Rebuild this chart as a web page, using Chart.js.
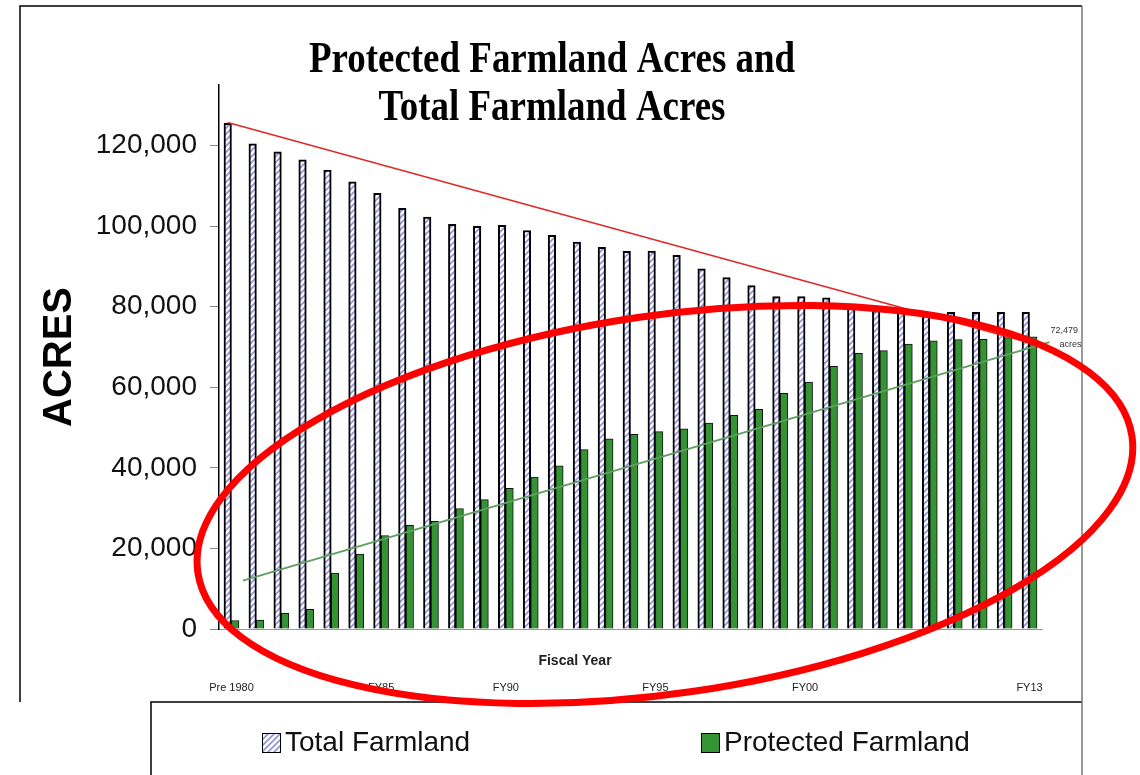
<!DOCTYPE html>
<html>
<head>
<meta charset="utf-8">
<script src="https://cdn.jsdelivr.net/npm/chart.js@4.4.1/dist/chart.umd.min.js"></script>
<style>
  html, body { margin: 0; padding: 0; background: #fff; }
  #wrap { width: 1140px; height: 775px; }
</style>
</head>
<body>
<div id="wrap"><canvas id="farmland" width="1140" height="775"></canvas></div>
<script>
// one entry per fiscal year bar pair, only some are labelled on the chart
const fiscalYears = [
    'Pre 1980', '', '', '', '', '', 'FY85', '', '', '', '', 'FY90', '', '', '', '', '',
    'FY95', '', '', '', '', '', 'FY00', '', '', '', '', '', '', '', '', 'FY13'
]

const totalAcres = [
    125500, 120400, 118400, 116400, 113900, 111000, 108100, 104400, 102200, 100400, 99900,
    100200, 98900, 97700, 96000, 94700, 93700, 93800, 92700, 89400, 87200, 85200,
    82500, 82500, 82200, 80000, 79000, 78800, 78600, 78600, 78600, 78600, 78600
]

const protectedAcres = [
    2100, 2200, 3900, 4900, 13900, 18600, 23200, 25700, 26700, 29900, 32100,
    34900, 37700, 40500, 44500, 47200, 48300, 49000, 49700, 51100, 53000, 54500,
    58500, 61300, 65200, 68400, 69100, 70700, 71500, 71800, 71900, 72300, 72479
]

const acreTicks = [0, 20000, 40000, 60000, 80000, 100000, 120000]

// linear trend lines, x = category index
const totalTrend = [{x: -0.15, y: 125700}, {x: 33.2, y: 69000}]
const protectedTrend = [{x: 0.46, y: 12000}, {x: 32.8, y: 71200}]

const titleLines = ['Protected Farmland Acres and', 'Total Farmland Acres']
const lastValueNote = ['72,479', 'acres']
// hand drawn highlight, centre in data units
const highlight = {x: 17.38, y: 30900}

const canvas = document.getElementById('farmland')
const fmt = v => String(v).replace(/\B(?=(\d{3})+(?!\d))/g, ',')

function hatchPattern() {
    const c = document.createElement('canvas')
    c.width = 6
    c.height = 6
    const g = c.getContext('2d')
    g.fillStyle = '#ffffff'
    g.fillRect(0, 0, 6, 6)
    g.strokeStyle = '#9090dc'
    g.lineWidth = 1.6
    g.beginPath()
    g.moveTo(0, 6); g.lineTo(6, 0)
    g.moveTo(-1, 1); g.lineTo(1, -1)
    g.moveTo(5, 7); g.lineTo(7, 5)
    g.stroke()
    return canvas.getContext('2d').createPattern(c, 'repeat')
}

const hatch = hatchPattern()

const overlay = {
    id: 'overlay',
    afterDraw(chart) {
        const {ctx, scales} = chart
        ctx.save()

        // frame and legend box
        ctx.lineWidth = 1.5
        ctx.strokeStyle = '#000'
        ctx.beginPath()
        ctx.moveTo(20, 702); ctx.lineTo(20, 6); ctx.lineTo(1082, 6)
        ctx.moveTo(151, 775); ctx.lineTo(151, 702); ctx.lineTo(1082, 702)
        ctx.stroke()
        ctx.strokeStyle = '#777'
        ctx.beginPath()
        ctx.moveTo(1082, 6); ctx.lineTo(1082, 775)
        ctx.stroke()

        // title
        ctx.fillStyle = '#000'
        ctx.font = 'bold 44px "Liberation Serif"'
        ctx.textAlign = 'center'
        ctx.textBaseline = 'alphabetic'
        titleLines.forEach((t, i) => {
            ctx.save()
            ctx.translate(552, 72 + i * 48)
            ctx.scale(0.84, 1)
            ctx.fillText(t, 0, 0)
            ctx.restore()
        })

        // axis title under the plot
        ctx.font = 'bold 14px "Liberation Sans"'
        ctx.fillStyle = '#222'
        ctx.textBaseline = 'middle'
        ctx.fillText('Fiscal Year', 575, 661)

        // legend
        ctx.textAlign = 'left'
        ctx.font = '28px "Liberation Sans"'
        const legendX = [262, 701]
        chart.data.datasets.filter(d => d.type !== 'line').forEach((d, i) => {
            ctx.fillStyle = d.backgroundColor
            ctx.fillRect(legendX[i], 733, 18, 19)
            ctx.lineWidth = 1
            ctx.strokeStyle = '#000'
            ctx.strokeRect(legendX[i] + 0.5, 733.5, 18, 19)
            ctx.fillStyle = '#111'
            ctx.fillText(d.label, legendX[i] + 23, 743)
        })

        // note on last value
        const nx = scales.x.getPixelForValue(protectedAcres.length - 1) + 21
        const ny = scales.y.getPixelForValue(protectedAcres[protectedAcres.length - 1])
        ctx.font = '9px "Liberation Sans"'
        ctx.fillStyle = '#333'
        ctx.fillText(lastValueNote[0], nx, ny - 6)
        ctx.fillText(lastValueNote[1], nx + 9, ny + 8)

        // red highlight ellipse
        ctx.strokeStyle = '#ff0000'
        ctx.lineWidth = 7
        ctx.beginPath()
        ctx.ellipse(scales.x.getPixelForValue(highlight.x), scales.y.getPixelForValue(highlight.y),
            472, 189, -8.3 * Math.PI / 180, 0, Math.PI * 2)
        ctx.stroke()

        ctx.restore()
    }
}

Chart.defaults.font.family = '"Liberation Sans", Arial, sans-serif'

new Chart(canvas, {
    type: 'bar',
    data: {
        labels: fiscalYears,
        datasets: [
            {
                label: 'Total Farmland',
                data: totalAcres,
                backgroundColor: hatch,
                borderColor: '#000',
                borderWidth: 2,
                barThickness: 7.5,
                order: 2
            },
            {
                label: 'Protected Farmland',
                data: protectedAcres,
                backgroundColor: '#349434',
                borderColor: '#111',
                borderWidth: 1,
                barThickness: 7.5,
                order: 2
            },
            {
                type: 'line',
                label: 'Total trend',
                data: totalTrend,
                parsing: false,
                grouped: false,
                borderColor: '#e02828',
                borderWidth: 1.5,
                pointRadius: 0,
                clip: false,
                order: 1
            },
            {
                type: 'line',
                label: 'Protected trend',
                data: protectedTrend,
                parsing: false,
                grouped: false,
                borderColor: '#5f9f5f',
                borderWidth: 2,
                pointRadius: 0,
                clip: false,
                order: 1
            }
        ]
    },
    options: {
        responsive: false,
        animation: false,
        layout: {padding: {left: 20, right: 98, top: 85, bottom: 79}},
        plugins: {
            legend: {display: false},
            tooltip: {enabled: false},
            title: {display: false}
        },
        scales: {
            x: {
                type: 'category',
                min: 0,
                max: fiscalYears.length - 1,
                offset: true,
                weight: 0,
                grid: {display: false, drawTicks: false},
                border: {display: true, color: '#999', width: 1},
                ticks: {display: false},
                afterFit: s => { s.height = 47 }
            },
            x2: {
                type: 'category',
                labels: fiscalYears,
                position: 'bottom',
                weight: 1,
                offset: true,
                grid: {display: false, drawTicks: false},
                border: {display: false},
                ticks: {autoSkip: false, maxRotation: 0, color: '#222', padding: 5, font: {size: 11}},
                afterFit: s => { s.height = 20 }
            },
            y: {
                min: 0,
                max: 135000,
                afterBuildTicks: s => { s.ticks = acreTicks.map(v => ({value: v})) },
                afterFit: s => { s.width = 199 },
                ticks: {padding: 13, color: '#111', font: {size: 28}, callback: v => fmt(v)},
                grid: {display: true, drawOnChartArea: false, drawTicks: true, tickLength: 9, tickColor: '#888'},
                border: {display: true, color: '#000', width: 1.5},
                title: {
                    display: true,
                    text: 'ACRES',
                    color: '#000',
                    font: {size: 40, weight: 'bold'},
                    padding: {top: 16, bottom: 0}
                }
            }
        }
    },
    plugins: [overlay]
})
</script>
</body>
</html>
